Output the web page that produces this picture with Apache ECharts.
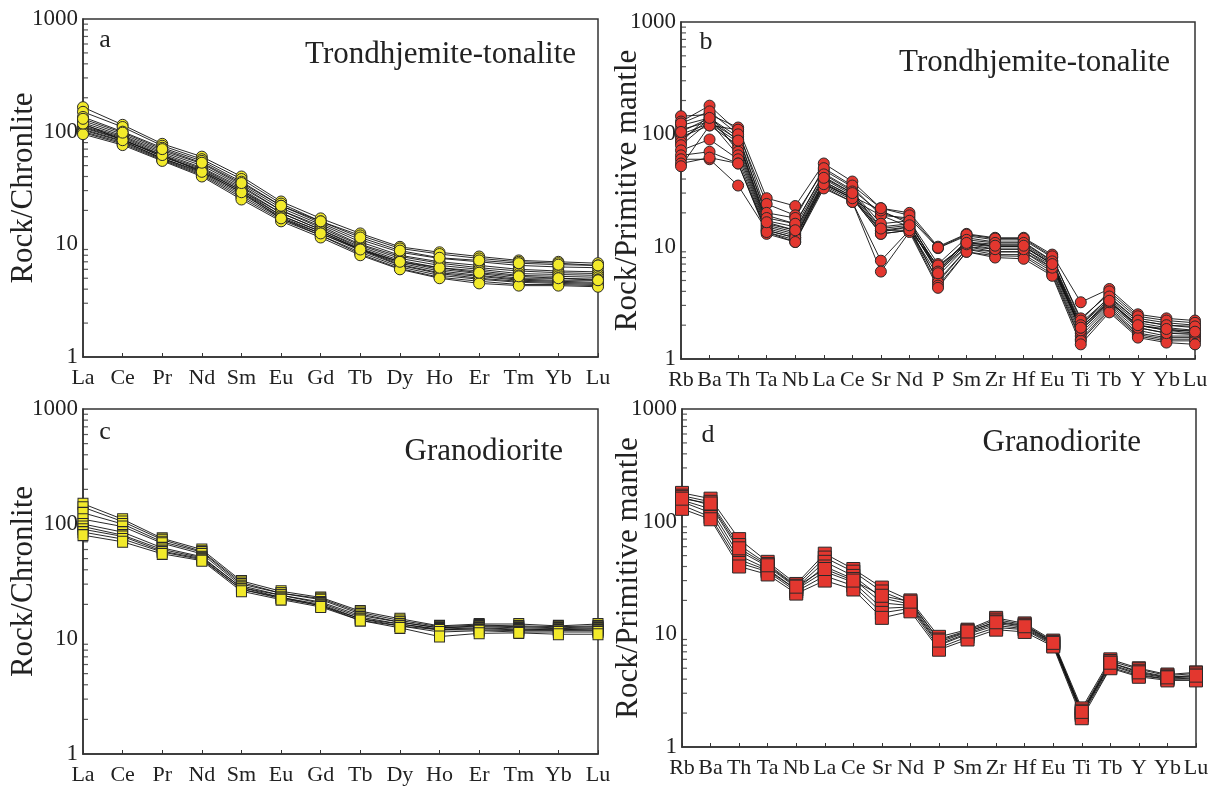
<!DOCTYPE html>
<html><head><meta charset="utf-8">
<script src="https://cdn.jsdelivr.net/npm/echarts@6/dist/echarts.min.js"></script>
<style>html,body{margin:0;padding:0;background:#fff}#c{width:1220px;height:786px}</style>
</head><body><div id="c"></div>
<script>
// ---- categories ----
const reeElements = ['La','Ce','Pr','Nd','Sm','Eu','Gd','Tb','Dy','Ho','Er','Tm','Yb','Lu'];
const spiderElements = ['Rb','Ba','Th','Ta','Nb','La','Ce','Sr','Nd','P','Sm','Zr','Hf','Eu','Ti','Tb','Y','Yb','Lu'];
const yTickLabels = {1:'1', 10:'10', 100:'100', 1000:'1000'};

// ---- (a) Trondhjemite-tonalite, chondrite-normalised REE ----
const trondhjemiteREE = [
  [165,115,78,60,40,24,17,12.5,9.5,8.5,7.8,7.2,7.0,6.8],
  [150,110,75,57,38,23,16,12,9.2,8.2,7.5,7.0,6.8,6.5],
  [135,100,72,55,36,22,15.5,11,8.5,7.5,7.0,6.5,6.3,6.2],
  [125,95,68,52,34,21,15,10.5,8,7,6.5,6,5.8,5.7],
  [120,92,66,50,33,20,14.5,10,7.8,6.8,6.2,5.8,5.6,5.5],
  [115,90,64,48,32,20,14,9.8,7.5,6.5,6,5.5,5.4,5.3],
  [112,88,62,47,31,19,13.5,9.5,7.2,6.2,5.8,5.3,5.2,5.1],
  [110,86,60,46,30,19,13.5,9.2,7,6,5.5,5,5,4.9],
  [108,85,60,45,30,18,13,9,6.8,5.8,5.3,4.9,4.8,4.8],
  [105,83,58,44,29,18,13,9,6.6,5.6,5.2,4.8,4.7,4.6],
  [103,82,58,43,28,17.5,12.5,8.8,6.5,5.5,5.0,4.7,4.6,4.5],
  [100,80,57,42,27,17,12,8.5,6.3,5.3,4.9,4.6,4.5,4.4],
  [98,78,56,41,26,16.5,12,8.2,6.1,5.1,4.7,4.4,4.4,4.3],
  [95,76,55,40,25,16,11.5,8,6,5,4.5,4.3,4.3,4.2],
  [118,84,62,44,29,17,12.5,9,7,6.2,5.6,5.2,5,4.8],
  [130,98,70,53,35,22,16,11.5,8.8,7.6,7.2,6.8,6.6,6.5]
];

// ---- (b) Trondhjemite-tonalite, primitive-mantle-normalised ----
const trondhjemiteSpider = [
  [145,150,115,27,23,55,38,22,20,10,13,12,12,8.5,3.2,4.2,2.5,2.3,2.2],
  [130,180,105,24,19,48,34,19,18,9.7,12.5,11.5,11.5,8,2.3,3.8,2.3,2.1,2.0],
  [120,140,95,19,16,45,32,20,17,7,12,11,11,7.5,2.1,3.5,2.2,2.0,1.9],
  [110,130,90,17,15,42,30,15,16,6.5,11,10.5,10.5,7.2,2.0,3.4,2.1,1.9,1.8],
  [100,125,85,16,14,40,29,14,15,6.2,10.5,10,10,7,1.9,3.2,2.0,1.8,1.7],
  [95,120,80,15.5,13.5,38,28,13.5,15,6,10,9.5,9.5,6.8,1.8,3.1,1.9,1.7,1.65],
  [90,135,75,15,13,37,27,13,14,5.5,10,9,9,6.5,1.7,3.0,1.8,1.6,1.6],
  [85,150,70,14.5,12.5,36,27,14,14,5,9.5,9,9,6.2,1.6,2.9,1.7,1.55,1.55],
  [80,130,65,14,12,35,26,19,15,4.8,9.5,8.5,8.5,6,1.5,2.8,1.65,1.5,1.5],
  [72,90,60,13.5,11.5,34,25,7.5,14,4.5,9,8.3,8.2,5.7,1.45,2.7,1.6,1.45,1.45],
  [65,70,55,13,11,33,25,6,13.5,4.3,9,8,7.8,5.5,1.35,2.6,1.55,1.4,1.35],
  [60,60,35,14,12,38,28,21,16,6.5,11,10,10,7,1.8,3.2,2.0,1.8,1.8],
  [55,62,55,13.5,11,36,27,13,14,6.8,10.5,9.5,9.5,6.5,1.9,3.3,1.9,1.7,1.7],
  [52,120,110,20,18,50,35,22,19,9.8,12.8,11.8,11.8,8.2,2.2,4.0,2.4,2.2,2.1],
  [125,160,100,18,16,44,31,16,17,6,11.5,10.8,10.8,7.4,2.0,3.6,2.2,2.0,1.95],
  [105,140,88,16.5,14,41,30,14.5,15.5,5.8,10.8,10.2,10.2,7,1.9,3.3,2.0,1.85,1.75]
];

// ---- (c) Granodiorite, chondrite-normalised REE ----
const granodioriteREE = [
  [150,110,75,60,32,26,23,17.5,15,13,13.5,13.5,13,13.5],
  [140,105,73,58,31,25,22.5,17,14.5,12.8,13.2,13,12.8,13],
  [125,100,70,57,30,25,22,16.5,14,12.5,13,12.8,12.5,12.8],
  [110,95,68,55,29,24,21,16,14,12.5,12.8,12.5,12.3,12.5],
  [100,85,62,52,28,24,20.5,15.5,13.5,12.2,12.5,12.2,12,12.3],
  [95,80,60,51,28,23,20,15,13.5,12,12.3,12,12,12],
  [90,78,58,50,27,23,19.5,15,13,12,12,11.8,11.8,11.8],
  [85,74,57,49,27,22.5,19.5,14.5,13,11.5,11.8,11.5,11.5,11.5],
  [80,70,55,48,26,22,19,14.5,12.5,10.5,11.2,11.3,11,11]
];

// ---- (d) Granodiorite, primitive-mantle-normalised ----
const granodioriteSpider = [
  [180,160,70,44,28,52,38,26,20,9.5,11,14,12.5,8.8,2.2,6,5,4.4,4.6],
  [170,150,62,42,27,48,36,24,19,9,10.8,13.5,12.2,8.6,2.1,5.8,4.9,4.3,4.5],
  [165,140,55,40,26,44,33,21,18.5,8.5,10.5,13,12,8.5,2.0,5.6,4.7,4.2,4.3],
  [155,130,50,38,25,40,31,19,18,8.2,10.2,12.5,11.5,8.3,2.0,5.4,4.5,4.1,4.2],
  [150,120,46,37,25,36,29,17,17.5,8,10,12,11.2,8.2,1.95,5.3,4.4,4.0,4.1],
  [140,110,43,36,24,33,27,15.5,17,7.6,9.5,11.5,11,8,1.9,5.1,4.3,4.0,4.0],
  [130,105,40,34,23,30,25,14,16,7.3,9,11,10.5,7.8,1.8,5,4.2,3.9,3.9],
  [160,145,58,41,26.5,38,30,22,19.5,8.8,10.6,12.8,11.8,8.4,2.05,5.6,4.6,4.15,4.3]
];

const FONT = '"Liberation Serif","DejaVu Serif",serif';
const YELLOW = '#f2ea2b';
const RED = '#e3372f';
const INK = '#222';

const panels = [
  {grid:{left:83,top:19,width:515,height:338}, cats:reeElements, data:trondhjemiteREE,
   symbol:'circle', size:11, color:YELLOW, yName:'Rock/Chronlite', nameGap:44,
   letter:'a', letterPos:[105,40], title:'Trondhjemite-tonalite', titlePos:[576,55]},
  {grid:{left:681,top:22,width:514,height:337}, cats:spiderElements, data:trondhjemiteSpider,
   symbol:'circle', size:11, color:RED, yName:'Rock/Primitive mantle', nameGap:38,
   letter:'b', letterPos:[706,42], title:'Trondhjemite-tonalite', titlePos:[1170,63]},
  {grid:{left:83,top:409,width:515,height:347}, cats:reeElements, data:granodioriteREE,
   symbol:'rect', size:[10,11], color:YELLOW, yName:'Rock/Chronlite', nameGap:44,
   letter:'c', letterPos:[105,432], title:'Granodiorite', titlePos:[563,452]},
  {grid:{left:682,top:409,width:514,height:338}, cats:spiderElements, data:granodioriteSpider,
   symbol:'rect', size:[13,13], color:RED, yName:'Rock/Primitive mantle', nameGap:38,
   letter:'d', letterPos:[708,435], title:'Granodiorite', titlePos:[1141,443]}
];

// minor tick positions on the log axes (2..9 in each decade)
const minorTickValues = [];
[1,10,100].forEach(d => { for (let k = 2; k <= 9; k++) minorTickValues.push(k*d); });

const grids = [], xAxes = [], yAxes = [], series = [], graphics = [];
panels.forEach((p, i) => {
  grids.push(Object.assign({show:true, borderColor:'#333', borderWidth:1.5, backgroundColor:'transparent'}, p.grid));
  xAxes.push({
    type:'category', gridIndex:i, data:p.cats, boundaryGap:false,
    axisLine:{lineStyle:{color:'#333', width:1.5}},
    axisTick:{inside:true, length:4, lineStyle:{color:'#333'}},
    axisLabel:{interval:0, fontFamily:FONT, fontSize:22, color:INK, margin:10},
    splitLine:{show:false}
  });
  yAxes.push({
    type:'log', logBase:10, min:1, max:1000, gridIndex:i,
    axisLine:{show:true, lineStyle:{color:'#333', width:1.5}},
    axisTick:{inside:true, length:7, lineStyle:{color:'#333'}},
    axisLabel:{fontFamily:FONT, fontSize:23, color:INK, margin:5,
      formatter:(v) => yTickLabels[Math.round(v)] || String(v)},
    splitLine:{show:false},
    name:p.yName, nameLocation:'middle', nameGap:p.nameGap, nameMoveOverlap:false,
    nameTextStyle:{fontFamily:FONT, fontSize:31, color:INK}
  });
  series.push({
    type:'scatter', xAxisIndex:i, yAxisIndex:i, silent:true, z:1,
    data:minorTickValues.map(v => [p.cats[0], v]),
    symbol:'rect', symbolSize:[5,1.2], symbolOffset:[2.5,0],
    itemStyle:{color:'#333'}, clip:false
  });
  p.data.forEach(sample => {
    series.push({type:'line', xAxisIndex:i, yAxisIndex:i, data:sample, symbol:'none',
      lineStyle:{color:'#111', width:0.9}, z:2, silent:true});
  });
  p.data.forEach(sample => {
    series.push({type:'line', xAxisIndex:i, yAxisIndex:i, data:sample, symbol:p.symbol,
      symbolSize:p.size, showAllSymbol:true, lineStyle:{width:0, opacity:0},
      itemStyle:{color:p.color, borderColor:'#2a2a2a', borderWidth:1}, z:3, silent:true});
  });
  graphics.push({type:'text', x:p.letterPos[0], y:p.letterPos[1],
    style:{text:p.letter, font:'26px ' + FONT, fill:INK, textAlign:'center', textVerticalAlign:'middle'}});
  graphics.push({type:'text', x:p.titlePos[0], y:p.titlePos[1],
    style:{text:p.title, font:'31px ' + FONT, fill:INK, textAlign:'right', textVerticalAlign:'middle'}});
});

const chart = echarts.init(document.getElementById('c'));
chart.setOption({
  animation:false,
  backgroundColor:'#fff',
  grid:grids, xAxis:xAxes, yAxis:yAxes, series:series, graphic:graphics
});
</script>
</body></html>
